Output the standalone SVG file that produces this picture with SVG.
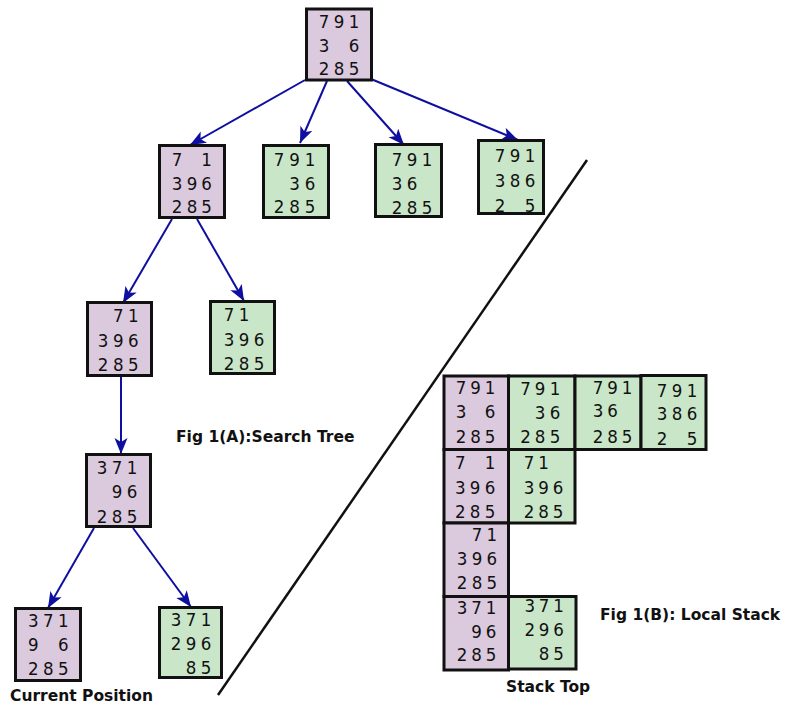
<svg xmlns="http://www.w3.org/2000/svg" width="786" height="706" viewBox="0 0 786 706">
  <style>
    .p { fill: #dbc9de; stroke: #111; stroke-width: 3; }
    .g { fill: #c9e6c8; stroke: #111; stroke-width: 3; }
    .d { font-family: "DejaVu Sans Condensed", "DejaVu Sans", "Liberation Sans", sans-serif; font-stretch: condensed; font-size: 18.5px; fill: #111; text-anchor: middle; }
    .lbl { font-family: "DejaVu Sans", "Liberation Sans", sans-serif; font-size: 15.5px; font-weight: bold; fill: #111; }
    .edge { stroke: #0e0ea0; stroke-width: 2; fill: none; marker-end: url(#head); }
  </style>
  <defs>
    <marker id="head" markerUnits="userSpaceOnUse" markerWidth="18" markerHeight="14" refX="16" refY="6.5" orient="auto">
      <path d="M0,0 L16,6.5 L0,13 L4,6.5 z" fill="#0e0ea0"/>
    </marker>
  </defs>
  <rect width="786" height="706" fill="#fff"/>

  <!-- divider between the tree and the stack -->
  <line x1="218" y1="695" x2="587" y2="160" stroke="#111" stroke-width="2.5"/>

  <!-- connectors -->
  <g id="edges">
    <line class="edge" x1="305" y1="80" x2="190" y2="145"/>
    <line class="edge" x1="327" y1="81" x2="300" y2="143"/>
    <line class="edge" x1="347" y1="81" x2="404" y2="145"/>
    <line class="edge" x1="371" y1="79" x2="518" y2="140"/>
    <line class="edge" x1="172" y1="219" x2="123" y2="303"/>
    <line class="edge" x1="197" y1="219" x2="244" y2="301"/>
    <line class="edge" x1="121" y1="377" x2="121" y2="454"/>
    <line class="edge" x1="94" y1="528" x2="48" y2="608"/>
    <line class="edge" x1="133" y1="528" x2="191" y2="607"/>
  </g>

  <!-- search tree -->
  <g id="t-root">
    <rect class="p" x="306.5" y="9" width="65" height="71"/>
    <text class="d" x="324 339 354" y="28">791</text>
    <text class="d" x="324 354" y="52">36</text>
    <text class="d" x="324 339 354" y="75">285</text>
  </g>
  <g id="t-a">
    <rect class="p" x="159.5" y="145.5" width="65" height="72"/>
    <text class="d" x="177 206.5" y="166">71</text>
    <text class="d" x="177 192 206.5" y="189.5">396</text>
    <text class="d" x="177 192 206.5" y="213">285</text>
  </g>
  <g id="t-b">
    <rect class="g" x="263.5" y="145.5" width="65" height="72"/>
    <text class="d" x="279 294.5 310" y="166">791</text>
    <text class="d" x="294.5 310" y="190">36</text>
    <text class="d" x="279 294.5 310" y="213">285</text>
  </g>
  <g id="t-c">
    <rect class="g" x="375.5" y="144.5" width="66" height="72"/>
    <text class="d" x="397 412 427" y="165.5">791</text>
    <text class="d" x="397 412" y="190">36</text>
    <text class="d" x="397 412 427" y="214">285</text>
  </g>
  <g id="t-d">
    <rect class="g" x="478.5" y="140.5" width="65" height="73"/>
    <text class="d" x="500 515 530" y="161.5">791</text>
    <text class="d" x="500 515 530" y="186.5">386</text>
    <text class="d" x="500 530" y="211.5">25</text>
  </g>
  <g id="t-e">
    <rect class="p" x="87.5" y="302.5" width="64" height="73"/>
    <text class="d" x="118.3 133.3" y="321.5">71</text>
    <text class="d" x="103 118.3 133.3" y="346.5">396</text>
    <text class="d" x="103 118.3 133.3" y="371">285</text>
  </g>
  <g id="t-f">
    <rect class="g" x="210.5" y="301.5" width="64" height="72"/>
    <text class="d" x="229 244" y="321">71</text>
    <text class="d" x="229 244 259" y="345.5">396</text>
    <text class="d" x="229 244 259" y="370">285</text>
  </g>
  <g id="t-g">
    <rect class="p" x="86.5" y="454.5" width="64" height="72"/>
    <text class="d" x="102 117 132" y="474">371</text>
    <text class="d" x="117 132" y="498.3">96</text>
    <text class="d" x="102 117 132" y="522.5">285</text>
  </g>
  <g id="t-h">
    <rect class="p" x="15.5" y="608.5" width="65" height="72"/>
    <text class="d" x="33.3 48.3 63.3" y="626.7">371</text>
    <text class="d" x="33.3 63.3" y="650.7">96</text>
    <text class="d" x="33.3 48.3 63.3" y="675">285</text>
  </g>
  <g id="t-i">
    <rect class="g" x="159.5" y="607.5" width="62" height="70"/>
    <text class="d" x="176 191 206" y="626">371</text>
    <text class="d" x="176 191 206" y="649.5">296</text>
    <text class="d" x="191 206" y="674">85</text>
  </g>

  <!-- local stack -->
  <g id="s1">
    <rect class="p" x="444" y="376" width="64.5" height="73.5"/>
    <text class="d" x="461 475.5 490" y="394">791</text>
    <text class="d" x="461 490" y="418.3">36</text>
    <text class="d" x="461 475.5 490" y="442.7">285</text>
  </g>
  <g id="s2">
    <rect class="g" x="508.5" y="376" width="66.5" height="73.5"/>
    <text class="d" x="525.5 540 555" y="395">791</text>
    <text class="d" x="540 555" y="419.3">36</text>
    <text class="d" x="525.5 540 555" y="443.3">285</text>
  </g>
  <g id="s3">
    <rect class="g" x="575" y="376" width="66" height="73.5"/>
    <text class="d" x="598 612.5 627" y="394">791</text>
    <text class="d" x="598 612.5" y="417">36</text>
    <text class="d" x="598 612.5 627" y="442.7">285</text>
  </g>
  <g id="s4">
    <rect class="g" x="641" y="375.5" width="65" height="74"/>
    <text class="d" x="662 677 692" y="396.7">791</text>
    <text class="d" x="662 677 692" y="420">386</text>
    <text class="d" x="662 692" y="445">25</text>
  </g>
  <g id="s5">
    <rect class="p" x="444" y="449.5" width="64.5" height="73.5"/>
    <text class="d" x="460.3 490" y="469.3">71</text>
    <text class="d" x="460.3 475 490" y="494">396</text>
    <text class="d" x="460.3 475 490" y="518.3">285</text>
  </g>
  <g id="s6">
    <rect class="g" x="508.5" y="449.5" width="66.5" height="73.5"/>
    <text class="d" x="529 543.5" y="469">71</text>
    <text class="d" x="529 543.5 558" y="494">396</text>
    <text class="d" x="529 543.5 558" y="518">285</text>
  </g>
  <g id="s7">
    <rect class="p" x="444" y="523" width="64.5" height="73.5"/>
    <text class="d" x="477 491.7" y="541">71</text>
    <text class="d" x="462 477 491.7" y="565">396</text>
    <text class="d" x="462 477 491.7" y="589">285</text>
  </g>
  <g id="s8">
    <rect class="p" x="444" y="596.5" width="64.5" height="73.5"/>
    <text class="d" x="462 476.5 491" y="614">371</text>
    <text class="d" x="476.5 491" y="637.5">96</text>
    <text class="d" x="462 476.5 491" y="661">285</text>
  </g>
  <g id="s9">
    <rect class="g" x="508.5" y="596.5" width="67.5" height="72.5"/>
    <text class="d" x="529.7 544 558.5" y="612">371</text>
    <text class="d" x="529.7 544 558.5" y="635.5">296</text>
    <text class="d" x="544 558.5" y="659.5">85</text>
  </g>

  <!-- captions -->
  <text class="lbl" x="176" y="442">Fig 1(A):Search Tree</text>
  <text class="lbl" x="10" y="701">Current Position</text>
  <text class="lbl" x="506" y="692">Stack Top</text>
  <text class="lbl" x="600" y="620">Fig 1(B): Local Stack</text>
</svg>
